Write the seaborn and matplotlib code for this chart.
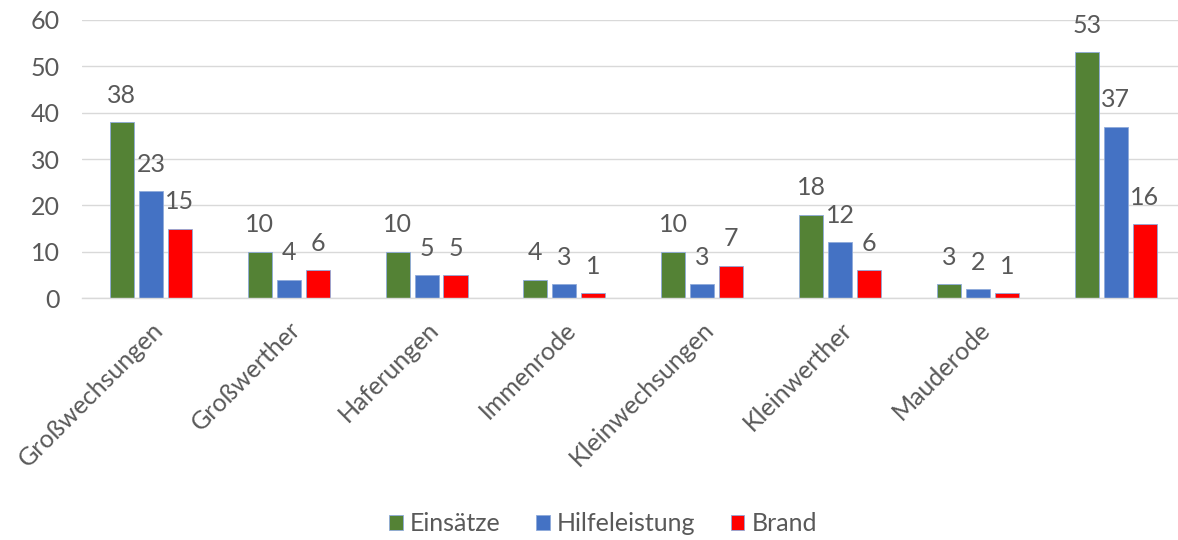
import pandas as pd
import matplotlib.pyplot as plt
import seaborn as sns
from matplotlib.patches import Patch

sns.set_theme(style="white")
plt.rcParams['font.family'] = ['Lato', 'DejaVu Sans']

# data
orte = ['Großwechsungen', 'Großwerther', 'Haferungen', 'Immenrode',
        'Kleinwechsungen', 'Kleinwerther', 'Mauderode', ' ']
einsaetze = [38, 10, 10, 4, 10, 18, 3, 53]
hilfeleistung = [23, 4, 5, 3, 3, 12, 2, 37]
brand = [15, 6, 5, 1, 7, 6, 1, 16]
serien = ['Einsätze', 'Hilfeleistung', 'Brand']
farben = ['#548235', '#4472C4', '#FF0000']

df = pd.DataFrame({'Ort': orte, 'Einsätze': einsaetze,
                   'Hilfeleistung': hilfeleistung, 'Brand': brand})
df_long = df.melt(id_vars='Ort', var_name='Art', value_name='Anzahl')

grau = '#595959'

fig = plt.figure(figsize=(11.78, 5.4), dpi=100)
ax = fig.add_axes([0.0696, 0.448, 0.936, 0.515])

sns.barplot(data=df_long, x='Ort', y='Anzahl', hue='Art', order=orte,
            hue_order=serien, palette=farben, saturation=1, width=0.63, gap=0.17,
            edgecolor='#8eaadb', linewidth=0.6, ax=ax, legend=False)

for cont in ax.containers:
    ax.bar_label(cont, padding=11, fontsize=18, color=grau)

ax.set_ylim(0, 60)
ax.set_yticks(range(0, 61, 10))
ax.set_xlim(-0.5, len(orte) - 0.5)
ax.yaxis.grid(True, color='#d9d9d9', linewidth=1)
ax.set_axisbelow(True)
for s in ['top', 'right', 'left']:
    ax.spines[s].set_visible(False)
ax.spines['bottom'].set_color('#d9d9d9')
ax.spines['bottom'].set_linewidth(1)
ax.tick_params(axis='y', length=0, labelsize=18, labelcolor=grau, pad=16)
ax.tick_params(axis='x', length=0, labelsize=18, labelcolor=grau, pad=14)
ax.set_xlabel('')
ax.set_ylabel('')
plt.setp(ax.get_xticklabels(), rotation=45, ha='right', rotation_mode='anchor')

handles = [Patch(facecolor=c, edgecolor='#8eaadb', linewidth=0.6) for c in farben]
fig.legend(handles, serien, loc='center', bbox_to_anchor=(0.512, 0.03), ncol=3,
           frameon=False, fontsize=18, labelcolor=grau, handlelength=0.55,
           handleheight=0.55, handletextpad=0.3, columnspacing=1.4)

plt.savefig('out.png', dpi=100)
plt.close()
